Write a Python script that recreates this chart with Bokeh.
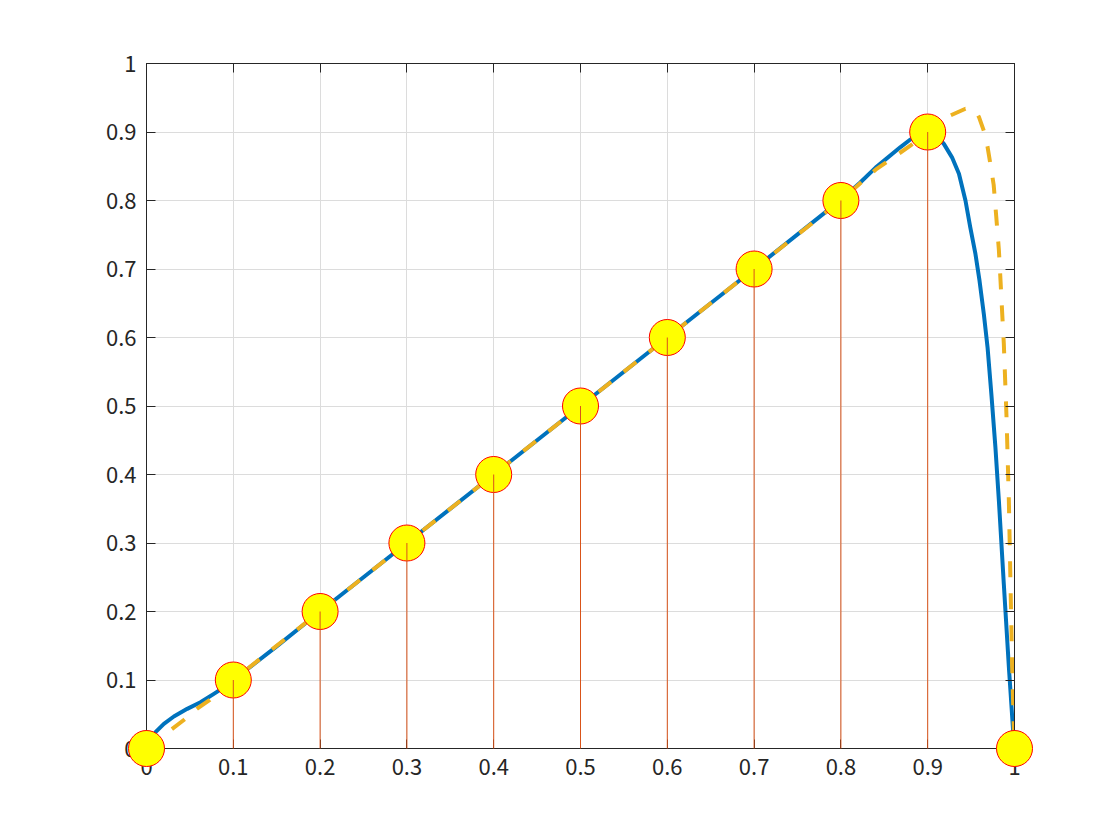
from bokeh.plotting import figure
from bokeh.models import LinearAxis, FixedTicker, ColumnDataSource
from bokeh.embed import file_html
from bokeh.resources import INLINE

# stem data
stem_x = [0.0, 0.1, 0.2, 0.3, 0.4, 0.5, 0.6, 0.7, 0.8, 0.9, 1.0]
stem_y = [0.0, 0.1, 0.2, 0.3, 0.4, 0.5, 0.6, 0.7, 0.8, 0.9, 0.0]

# blue solid interpolant
blue_x = [0.0, 0.004, 0.0104, 0.02, 0.0315, 0.0469, 0.0622, 0.0776, 0.09, 0.1, 0.15, 0.2,
          0.3, 0.4, 0.5, 0.6, 0.7, 0.8, 0.822, 0.84, 0.8687, 0.88, 0.9, 0.91, 0.9186,
          0.928, 0.936, 0.9435, 0.949, 0.955, 0.9597, 0.9647, 0.969, 0.9735, 0.978,
          0.982, 0.9877, 0.9935, 0.9984, 1.0]
blue_y = [0.0, 0.01, 0.0238, 0.036, 0.0467, 0.0579, 0.0676, 0.0798, 0.09, 0.1, 0.149, 0.2,
          0.3, 0.4, 0.5, 0.6, 0.7, 0.801, 0.826, 0.848, 0.878, 0.889, 0.9, 0.895, 0.8827,
          0.863, 0.839, 0.800, 0.761, 0.722, 0.683, 0.634, 0.585, 0.515, 0.44,
          0.362, 0.24, 0.119, 0.026, 0.0]

# orange dashed interpolant
orange_x = [0.0, 0.0296, 0.043, 0.058, 0.073, 0.1, 0.2, 0.3, 0.4, 0.5, 0.6, 0.7, 0.8, 0.84,
            0.88, 0.9, 0.926, 0.9435, 0.951, 0.956, 0.959, 0.9646, 0.969, 0.972, 0.976,
            0.979, 0.982, 0.9839, 0.9858, 0.9877, 0.9908, 0.9935, 0.9954, 0.9973, 0.999, 1.0]
orange_y = [0.0, 0.0287, 0.0416, 0.058, 0.071, 0.1, 0.2, 0.3, 0.4, 0.5, 0.6, 0.7, 0.8, 0.845,
            0.88, 0.9, 0.924, 0.934, 0.934, 0.929, 0.922, 0.902, 0.878, 0.855, 0.823,
            0.776, 0.728, 0.683, 0.636, 0.591, 0.484, 0.362, 0.24, 0.119, 0.04, 0.0]

ticks = [0.0, 0.1, 0.2, 0.3, 0.4, 0.5, 0.6, 0.7, 0.8, 0.9, 1.0]
tick_labels = ["0", "0.1", "0.2", "0.3", "0.4", "0.5", "0.6", "0.7", "0.8", "0.9", "1"]

FONT = "Noto Sans CJK JP"
TXT = "#262626"

p = figure(frame_width=868, frame_height=685, x_range=(0, 1), y_range=(0, 1),
           output_backend="svg", toolbar_location=None,
           min_border_left=146, min_border_top=63, min_border_right=90, min_border_bottom=76,
           background_fill_color="white", border_fill_color="white")
p.outline_line_color = TXT

overrides = {t: l for t, l in zip(ticks, tick_labels)}

for ax in [p.xaxis[0], p.yaxis[0]]:
    ax.ticker = FixedTicker(ticks=ticks)
    ax.major_label_overrides = overrides
    ax.major_label_text_font = FONT
    ax.major_label_text_font_size = "22px"
    ax.major_label_text_color = TXT
    ax.axis_line_color = TXT
    ax.major_tick_line_color = TXT
    ax.major_tick_in = 9
    ax.major_tick_out = 0
    ax.minor_tick_line_color = None
p.xaxis[0].major_label_standoff = 10
p.yaxis[0].major_label_standoff = 10

blank = {t: "" for t in ticks}
for loc in ["right", "above"]:
    ax = LinearAxis(ticker=FixedTicker(ticks=ticks), major_label_overrides=blank,
                    axis_line_color=TXT, major_tick_line_color=TXT, major_tick_in=9,
                    major_tick_out=0, minor_tick_line_color=None, major_label_standoff=0)
    p.add_layout(ax, loc)

for g in [p.xgrid[0], p.ygrid[0]]:
    g.ticker = FixedTicker(ticks=ticks)
    g.grid_line_color = "#dcdcdc"
    g.grid_line_width = 1

p.line(blue_x, blue_y, line_color="#0072BD", line_width=4, line_join="round")
p.line(orange_x, orange_y, line_color="#EDB120", line_width=4, line_dash="16 16")

src = ColumnDataSource(dict(x=stem_x, y=stem_y, y0=[0.0] * len(stem_x)))
p.scatter("x", "y", source=src, size=36, fill_color="#FFFF00", line_color="#FF0000",
          line_width=1, level="overlay")
p.segment("x", "y0", "x", "y", source=src, line_color="#D95319", line_width=1,
          level="overlay")

open("out.html", "w").write(file_html(p, INLINE))
